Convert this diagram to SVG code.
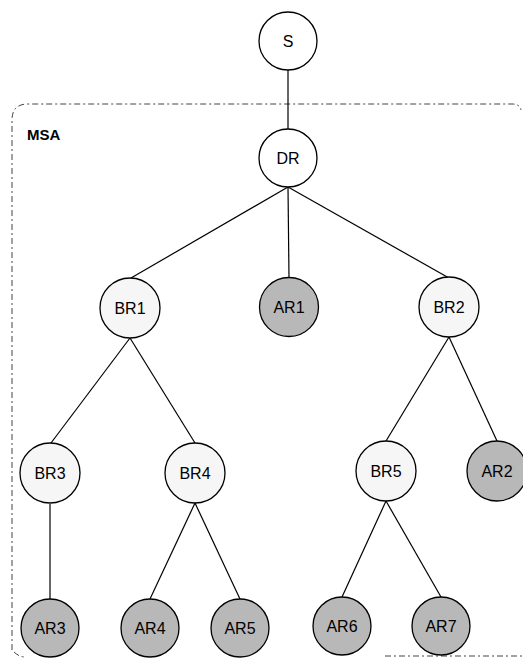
<svg xmlns="http://www.w3.org/2000/svg" width="523" height="661" viewBox="0 0 523 661">
  <style>
    .node circle { stroke: #000; stroke-width: 1.3; }
    .plain circle { fill: #fff; }
    .br circle { fill: #f6f6f6; }
    .ar circle { fill: #b8b8b8; }
    .node text { font-family: "Liberation Sans", Arial, sans-serif; font-size: 16px; fill: #000; text-anchor: middle; dominant-baseline: central; }
    .edges line { stroke: #000; stroke-width: 1.2; }
    .domain { fill: none; stroke: #444; stroke-width: 1; stroke-dasharray: 6 3 2 3; }
    .label { font-family: "Liberation Sans", Arial, sans-serif; font-size: 15px; font-weight: bold; }
  </style>

  <rect width="523" height="661" fill="#fff"/>

  <!-- MSA domain boundary -->
  <g id="msa">
    <path class="domain" d="M 12 650 L 12 120 Q 12 104 28 104 L 512 104 Q 520 104 521 110"/>
    <path class="domain" d="M 14 652 Q 18 656 24 657"/>
    <path class="domain" d="M 385 656 L 523 656"/>
    <text class="label" x="27" y="140">MSA</text>
  </g>

  <!-- connectors -->
  <g class="edges" id="edges">
    <line x1="288" y1="69" x2="288" y2="129"/>
    <line x1="288" y1="187" x2="131" y2="278"/>
    <line x1="288" y1="187" x2="289" y2="278"/>
    <line x1="288" y1="187" x2="449" y2="278"/>
    <line x1="130" y1="338" x2="51" y2="443"/>
    <line x1="130" y1="338" x2="195" y2="443"/>
    <line x1="449" y1="337" x2="386" y2="441"/>
    <line x1="449" y1="337" x2="497" y2="441"/>
    <line x1="50" y1="504" x2="50" y2="599"/>
    <line x1="195" y1="503" x2="150" y2="599"/>
    <line x1="195" y1="503" x2="240" y2="599"/>
    <line x1="386" y1="501" x2="342" y2="597"/>
    <line x1="386" y1="501" x2="441" y2="597"/>
  </g>

  <g id="S" class="node plain"><circle cx="288" cy="41" r="29"/><text x="288" y="41">S</text></g>
  <g id="DR" class="node plain"><circle cx="288" cy="158" r="29"/><text x="288" y="158">DR</text></g>
  <g id="BR1" class="node br"><circle cx="130" cy="308" r="30"/><text x="130" y="308">BR1</text></g>
  <g id="AR1" class="node ar"><circle cx="289" cy="307" r="29.5"/><text x="289" y="307">AR1</text></g>
  <g id="BR2" class="node br"><circle cx="449" cy="307" r="30"/><text x="449" y="307">BR2</text></g>
  <g id="BR3" class="node br"><circle cx="50" cy="473" r="30"/><text x="50" y="473">BR3</text></g>
  <g id="BR4" class="node br"><circle cx="195" cy="473" r="30"/><text x="195" y="473">BR4</text></g>
  <g id="BR5" class="node br"><circle cx="386" cy="471" r="30"/><text x="386" y="471">BR5</text></g>
  <g id="AR2" class="node ar"><circle cx="497" cy="471" r="30"/><text x="497" y="471">AR2</text></g>
  <g id="AR3" class="node ar"><circle cx="50" cy="628" r="29"/><text x="50" y="628">AR3</text></g>
  <g id="AR4" class="node ar"><circle cx="150" cy="628" r="29"/><text x="150" y="628">AR4</text></g>
  <g id="AR5" class="node ar"><circle cx="240" cy="628" r="29"/><text x="240" y="628">AR5</text></g>
  <g id="AR6" class="node ar"><circle cx="342" cy="626" r="29"/><text x="342" y="626">AR6</text></g>
  <g id="AR7" class="node ar"><circle cx="441" cy="626" r="29"/><text x="441" y="626">AR7</text></g>
</svg>
